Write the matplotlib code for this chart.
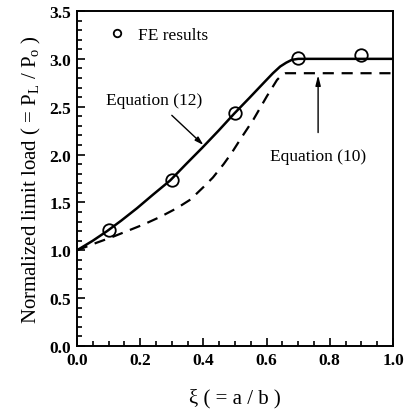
import matplotlib
matplotlib.use("Agg")
import matplotlib.pyplot as plt
from matplotlib.ticker import MultipleLocator

plt.rcParams['font.family'] = ['Liberation Serif', 'DejaVu Serif']
plt.rcParams['mathtext.fontset'] = 'custom'
plt.rcParams['mathtext.rm'] = 'Liberation Serif'
plt.rcParams['mathtext.it'] = 'Liberation Serif:italic'

# FE results
fe_x = [0.1, 0.3, 0.5, 0.7, 0.9]
fe_y = [1.21, 1.73, 2.43, 3.01, 3.04]

# Equation (12) - solid
eq12_x = [0.0, 0.05, 0.095, 0.14, 0.19, 0.24, 0.295, 0.345, 0.396, 0.448,
          0.498, 0.545, 0.591, 0.62, 0.643, 0.662, 0.68, 0.70, 1.0]
eq12_y = [1.0, 1.10, 1.20, 1.31, 1.44, 1.58, 1.73, 1.90, 2.07, 2.25,
          2.43, 2.59, 2.75, 2.85, 2.92, 2.96, 2.99, 3.0, 3.0]

# Equation (10) - dashed
eq10_x = [0.0, 0.063, 0.105, 0.158, 0.211, 0.264, 0.316, 0.359, 0.40, 0.43,
          0.464, 0.49, 0.517, 0.559, 0.601, 0.633, 0.648, 0.66, 1.0]
eq10_y = [1.0, 1.08, 1.13, 1.20, 1.27, 1.35, 1.44, 1.53, 1.66, 1.76,
          1.90, 2.02, 2.16, 2.37, 2.61, 2.78, 2.83, 2.85, 2.85]

fig = plt.figure(figsize=(4.04, 4.14), dpi=100)
ax = fig.add_axes([77/404, 1 - 347/414, (393-77)/404, (347-12)/414])

ax.plot(eq12_x, eq12_y, color='black', lw=1.8, solid_joinstyle='round')
ax.plot(eq10_x, eq10_y, color='black', lw=1.6, ls=(0, (5, 3.5)))
ax.plot(fe_x, fe_y, 'o', mfc='none', mec='black', ms=9, mew=1.3, label='FE results')

ax.set_xlim(0, 1.0)
ax.set_ylim(0, 3.5)
ax.xaxis.set_major_locator(MultipleLocator(0.2))
ax.xaxis.set_minor_locator(MultipleLocator(0.05))
ax.yaxis.set_major_locator(MultipleLocator(0.5))
ax.yaxis.set_minor_locator(MultipleLocator(0.1))
ax.tick_params(which='both', direction='in', top=False, right=False, width=1.2)
ax.tick_params(which='major', length=6, labelsize=12.5, pad=4)
ax.tick_params(which='minor', length=3.5)
ax.xaxis.set_major_formatter(plt.FuncFormatter(lambda v, p: f"{v:.1f}"))
ax.yaxis.set_major_formatter(plt.FuncFormatter(lambda v, p: f"{v:.1f}"))
for lab in ax.get_xticklabels() + ax.get_yticklabels():
    lab.set_fontweight('bold')
for s in ax.spines.values():
    s.set_linewidth(1.4)

ax.set_xlabel('ξ ( = a / b )', fontsize=15, labelpad=15)
ax.set_ylabel(r'Normalized limit load ( = P$_\mathrm{L}$ / P$_\mathrm{o}$ )', fontsize=15, labelpad=5)

leg = ax.legend(loc='upper left', frameon=False, fontsize=12.5, markerscale=0.6,
                handlelength=1.0, handletextpad=0.7, borderaxespad=0.3,
                bbox_to_anchor=(0.06, 0.99))

# Equation (12) label and arrow
ax.text(0.092, 2.57, 'Equation (12)', fontsize=12.5, ha='left', va='center')
ax.annotate('', xy=(0.40, 2.10), xytext=(0.30, 2.41),
            arrowprops=dict(arrowstyle='-|>,head_width=0.15,head_length=0.5',
                            color='black', lw=1.0, shrinkA=0, shrinkB=0))

# Equation (10) label and arrow
ax.text(0.61, 1.98, 'Equation (10)', fontsize=12.5, ha='left', va='center')
ax.annotate('', xy=(0.763, 2.83), xytext=(0.763, 2.23),
            arrowprops=dict(arrowstyle='-|>,head_width=0.15,head_length=0.6',
                            color='black', lw=1.0, shrinkA=0, shrinkB=0))

fig.savefig('out.png', dpi=100)
